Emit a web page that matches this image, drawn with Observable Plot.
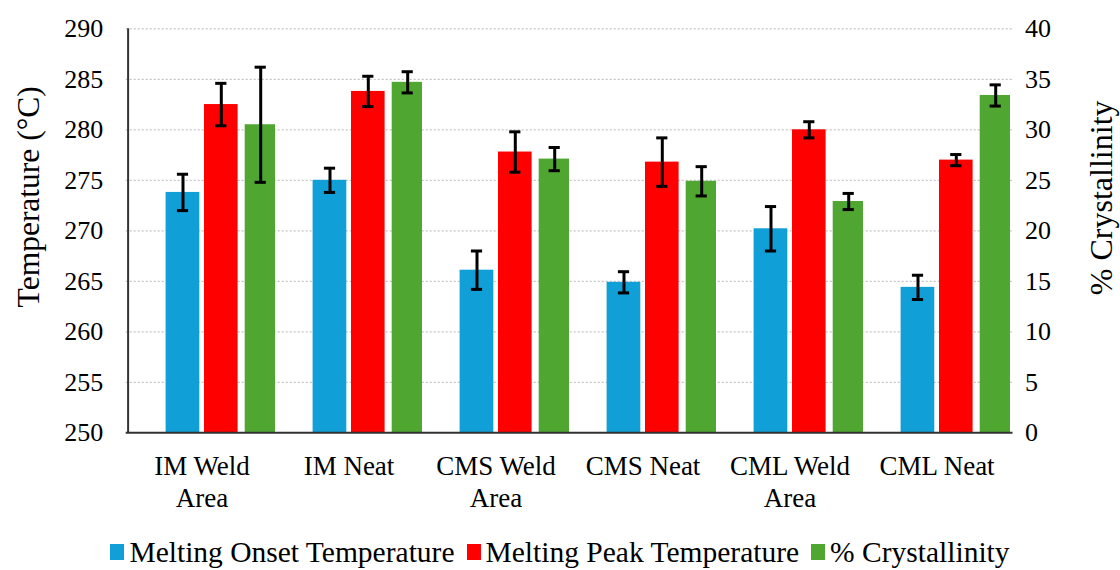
<!DOCTYPE html>
<html>
<head>
<meta charset="utf-8">
<script src="https://cdn.jsdelivr.net/npm/d3@7"></script>
<script src="https://cdn.jsdelivr.net/npm/@observablehq/plot@0.6"></script>
<style>
  html, body { margin: 0; padding: 0; background: #fff; }
  #chart { width: 1120px; }
  .legend { display: flex; justify-content: center; align-items: center; font-family: 'Liberation Serif', 'Times New Roman', serif; font-size: 29.5px; color: #000; height: 40px; padding-top: 7px; padding-left: 0px; }
  .legend .item { display: flex; align-items: center; margin: 0 6px; }
  .legend .sw { width: 14px; height: 16px; margin-right: 5px; display: inline-block; }
</style>
</head>
<body>
<div id="chart"></div>
<script>
const categories = ["IM Weld Area", "IM Neat", "CMS Weld Area", "CMS Neat", "CML Weld Area", "CML Neat"];
const tickLabels = ["IM Weld\nArea", "IM Neat", "CMS Weld\nArea", "CMS Neat", "CML Weld\nArea", "CML Neat"];
const onset = [273.8, 275.0, 266.1, 264.9, 270.2, 264.4];
const onsetErr = [1.8, 1.2, 1.9, 1.05, 2.2, 1.2];
const peak = [282.5, 283.8, 277.8, 276.8, 280.0, 277.0];
const peakErr = [2.1, 1.5, 2.0, 2.4, 0.8, 0.55];
const cryst = [30.5, 34.7, 27.1, 24.9, 22.9, 33.4];
const crystErr = [5.7, 1.05, 1.15, 1.45, 0.8, 1.05];
const tempTicks = [250, 255, 260, 265, 270, 275, 280, 285, 290];
const crystTicks = [0, 5, 10, 15, 20, 25, 30, 35, 40];
const seriesNames = ["Melting Onset Temperature", "Melting Peak Temperature", "% Crystallinity"];
const colors = ["#119fd7", "#ff0000", "#4fa731"];

const base = 250; // left-axis minimum; right axis 0..40 shares the same span
const rows = categories.map((c, i) => ({
  cat: c, onset: onset[i], onsetErr: onsetErr[i], peak: peak[i], peakErr: peakErr[i],
  cryst: base + cryst[i], crystErr: crystErr[i]
}));

const font = "'Liberation Serif', 'Times New Roman', serif";
const W = 147.8;

function errMarks(key, errKey, center, capW) {
  return [
    Plot.ruleX(rows, {x: "cat", y1: d => d[key] - d[errKey], y2: d => d[key] + d[errKey], dx: center - W / 2, stroke: "#000", strokeWidth: 3}),
    Plot.tickY(rows, {x: "cat", y: d => d[key] - d[errKey], insetLeft: center - capW / 2, insetRight: W - center - capW / 2, stroke: "#000", strokeWidth: 3}),
    Plot.tickY(rows, {x: "cat", y: d => d[key] + d[errKey], insetLeft: center - capW / 2, insetRight: W - center - capW / 2, stroke: "#000", strokeWidth: 3})
  ];
}

const chart = Plot.plot({
  width: 1120,
  height: 525,
  marginLeft: 125.7,
  marginRight: 1120 - 1012.5,
  marginTop: 28.3,
  marginBottom: 525 - 432.3,
  style: {fontFamily: font, fontSize: "26px", color: "#000", background: "#fff"},
  x: {domain: categories, padding: 0, align: 0.5},
  y: {domain: [250, 290]},
  marks: [
    Plot.ruleY(tempTicks.slice(1), {stroke: "#c4c4c4", strokeWidth: 1.3, strokeDasharray: "2,2"}),
    Plot.rectY(rows, {x: "cat", y1: base, y2: "onset", fill: colors[0], insetLeft: 37.6, insetRight: W - 72.1}),
    Plot.rectY(rows, {x: "cat", y1: base, y2: "peak", fill: colors[1], insetLeft: 76.0, insetRight: W - 110.4}),
    Plot.rectY(rows, {x: "cat", y1: base, y2: "cryst", fill: colors[2], insetLeft: 116.7, insetRight: 0}),
    ...errMarks("onset", "onsetErr", 54.9, 12),
    ...errMarks("peak", "peakErr", 93.2, 12),
    ...errMarks("cryst", "crystErr", 132.6, 12),
    Plot.ruleY([250], {stroke: "#333", strokeWidth: 2}),
    Plot.ruleX([categories[0]], {y1: 250, y2: 290, stroke: "#333", strokeWidth: 2, dx: -W / 2}),
    Plot.axisY({anchor: "left", ticks: tempTicks, tickSize: 0, tickPadding: 23, label: null, fontSize: 26, fontFamily: font}),
    Plot.axisY({anchor: "right", ticks: crystTicks.map(t => base + t), tickFormat: d => String(d - base), tickSize: 0, tickPadding: 12, label: null, fontSize: 26, fontFamily: font}),
    Plot.axisX({anchor: "bottom", tickSize: 0, tickPadding: 19, tickFormat: d => tickLabels[categories.indexOf(d)], label: null, fontSize: 27, lineHeight: 1.2, fontFamily: font}),
    Plot.text(["Temperature (°C)"], {frameAnchor: "left", textAnchor: "middle", rotate: -90, dx: -97, dy: -34, fontSize: 31.5, fill: "#000", fontFamily: font}),
    Plot.text(["% Crystallinity"], {frameAnchor: "right", textAnchor: "middle", rotate: -90, dx: 89, dy: -33, fontSize: 32, fill: "#000", fontFamily: font})
  ]
});

const container = document.getElementById("chart");
container.appendChild(chart);

const legend = document.createElement("div");
legend.className = "legend";
seriesNames.forEach((name, i) => {
  const item = document.createElement("span");
  item.className = "item";
  const sw = document.createElement("span");
  sw.className = "sw";
  sw.style.background = colors[i];
  item.appendChild(sw);
  item.appendChild(document.createTextNode(name));
  legend.appendChild(item);
});
container.appendChild(legend);
</script>
</body>
</html>
